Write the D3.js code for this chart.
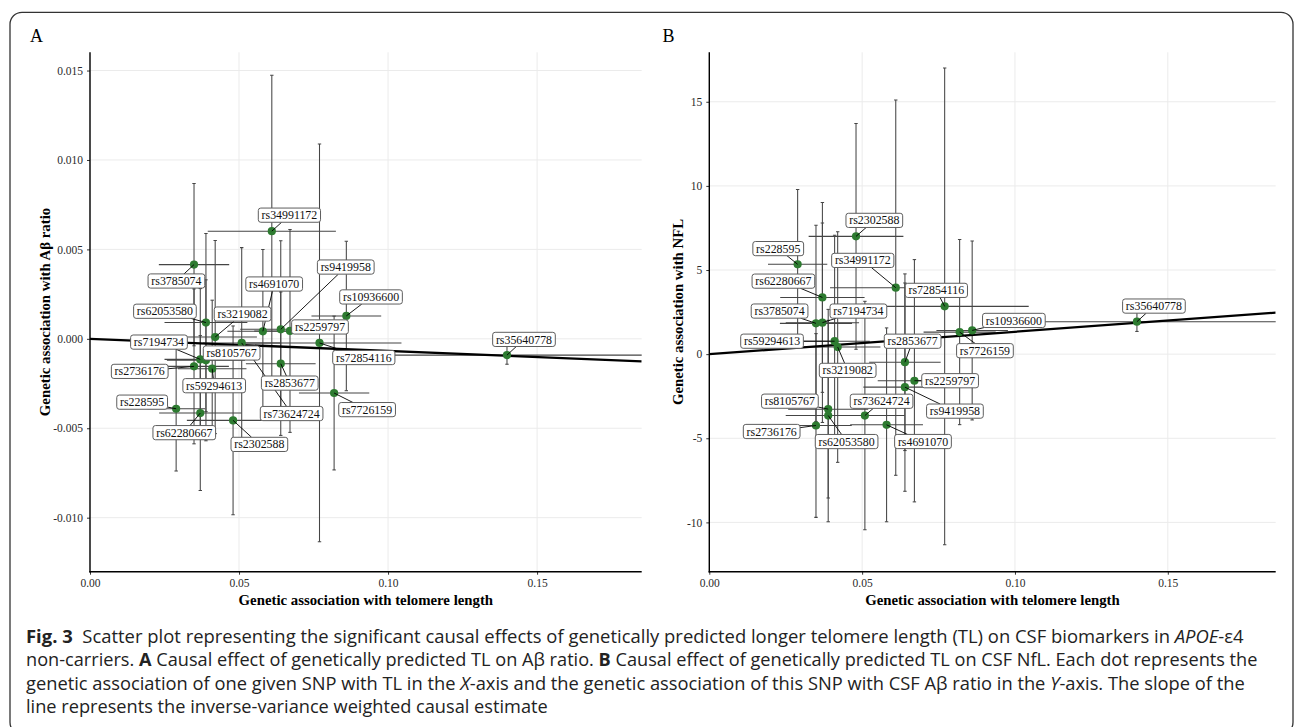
<!DOCTYPE html>
<html><head><meta charset="utf-8">
<script src="https://cdn.jsdelivr.net/npm/d3@7"></script>
<style>body{margin:0;background:#fff} svg{display:block}</style>
</head><body><svg id="chart" width="1295" height="727"></svg>
<script>
// ---------------- data ----------------
const snps = ["rs34991172","rs3785074","rs62053580","rs3219082","rs4691070","rs9419958","rs10936600","rs2259797","rs7194734","rs8105767","rs72854116","rs2736176","rs59294613","rs2853677","rs228595","rs73624724","rs7726159","rs62280667","rs2302588","rs35640778"];
// genetic association with telomere length (x) and its error half-width
const tlBeta = [0.0610,0.0349,0.0389,0.0420,0.0580,0.0640,0.0860,0.0671,0.0370,0.0389,0.0770,0.0349,0.0410,0.0640,0.0289,0.0509,0.0819,0.0370,0.0480,0.1399];
const tlSe   = [0.0215,0.0118,0.0139,0.0140,0.0119,0.0136,0.0117,0.0120,0.0120,0.0131,0.0275,0.0117,0.0115,0.0117,0.0097,0.0130,0.0118,0.0138,0.0155,0.0500];
// panel A: genetic association with Abeta ratio
const abBeta = [0.00602,0.00415,0.00091,0.00010,0.00042,0.00053,0.00128,0.00044,-0.00115,-0.00120,-0.00023,-0.00154,-0.00167,-0.00139,-0.00391,-0.00023,-0.00303,-0.00415,-0.00456,-0.00091];
const abSe   = [0.00872,0.00454,0.00498,0.00540,0.00457,0.00495,0.00418,0.00567,0.00396,0.00450,0.01112,0.00433,0.00383,0.00401,0.00348,0.00533,0.00430,0.00433,0.00528,0.00051];
// panel B: genetic association with NfL
const nflBeta = [3.95,1.83,-3.65,0.42,-4.20,-1.96,1.41,-1.58,1.87,-3.27,2.84,-4.24,0.77,-0.48,5.34,-3.65,1.31,3.37,7.00,1.93];
const nflSe   = [11.15,5.83,6.31,6.85,5.76,6.19,5.32,7.20,5.93,5.28,14.17,5.46,6.30,5.25,4.45,6.79,5.50,5.64,6.71,0.58];
// IVW causal estimates (slopes)
const ivwSlopeAB = -0.0068;
const ivwSlopeNFL = 13.3;
// ticks
const xTickValues = [0, 0.05, 0.10, 0.15];
const xTickLabels = ["0.00","0.05","0.10","0.15"];
const abTickValues = [-0.010,-0.005,0,0.005,0.010,0.015];
const abTickLabels = ["-0.010","-0.005","0.000","0.005","0.010","0.015"];
const nflTickValues = [-10,-5,0,5,10,15];
const nflTickLabels = ["-10","-5","0","5","10","15"];
// text
const panelLetters = ["A","B"];
const yTitles = ["Genetic association with Aβ ratio","Genetic association with NFL"];
const xTitle = "Genetic association with telomere length";

// ---------------- layout (label placement, px offsets from the point) ----------------
const labelOffsetA = [[17.6,-16],[-17.6,16.4],[-41,-11.3],[27.4,-23],[11.3,-47.3],[65,-62.3],[24.7,-19],[30,-4],[-41.3,-17.3],[25.7,-7.3],[44.3,14.6],[-54.3,5],[2,17],[9,19.4],[-34,-6.6],[49.9,70.6],[33,16.6],[-16,19.6],[26.3,24],[17,-15.7]];
const labelOffsetB = [[-33,-27.3],[-36.4,-12.3],[18.4,26],[10,23.3],[36.4,16.7],[50,24],[41.7,-10],[35.7,0],[36,-11.6],[-38.3,-8],[-8.3,-16],[-44.3,6],[-62.6,0],[7.7,-21],[-19.4,-15.7],[16.7,-14.3],[25.3,18.6],[-39,-16.3],[18.3,-16],[17,-15.6]];

const svg = d3.select("#chart");
const SERIF = "'Liberation Serif','Times New Roman',serif";

// frame
svg.append("rect").attr("x",10).attr("y",12.3).attr("width",1283).attr("height",722)
  .attr("rx",12).attr("fill","none").attr("stroke","#333").attr("stroke-width",1.3);

const panels = [
  {letter:panelLetters[0], letterX:30, left:90, right:641.7, xMax:0.1851, yDom:[-0.01302,0.01602],
   yv:abBeta, ye:abSe, yTicks:abTickValues, yLabels:abTickLabels, slope:ivwSlopeAB,
   yTitle:yTitles[0], yTitleX:50, offs:labelOffsetA},
  {letter:panelLetters[1], letterX:662.5, left:709.3, right:1275.7, xMax:0.1853, yDom:[-12.93,17.94],
   yv:nflBeta, ye:nflSe, yTicks:nflTickValues, yLabels:nflTickLabels, slope:ivwSlopeNFL,
   yTitle:yTitles[1], yTitleX:683, offs:labelOffsetB}
];
const plotTop = 52.3, plotBottom = 571.7;

panels.forEach((p, pi) => {
  const x = d3.scaleLinear().domain([0, p.xMax]).range([p.left, p.right]);
  const y = d3.scaleLinear().domain(p.yDom).range([plotBottom, plotTop]);
  const g = svg.append("g");
  const clipId = "clip" + pi;
  svg.append("clipPath").attr("id", clipId).append("rect")
    .attr("x", p.left).attr("y", plotTop).attr("width", p.right - p.left).attr("height", plotBottom - plotTop);

  // grid
  g.append("g").selectAll("line").data(xTickValues).join("line")
    .attr("x1", d => x(d)).attr("x2", d => x(d)).attr("y1", plotTop).attr("y2", plotBottom)
    .attr("stroke", "#ebebeb").attr("stroke-width", 1);
  g.append("g").selectAll("line").data(p.yTicks).join("line")
    .attr("x1", p.left).attr("x2", p.right).attr("y1", d => y(d)).attr("y2", d => y(d))
    .attr("stroke", "#ebebeb").attr("stroke-width", 1);

  const pg = g.append("g").attr("clip-path", `url(#${clipId})`);
  const idx = d3.range(snps.length);
  const barColor = "#454545";
  // vertical error bars
  pg.append("g").selectAll("line").data(idx).join("line")
    .attr("x1", i => x(tlBeta[i])).attr("x2", i => x(tlBeta[i]))
    .attr("y1", i => y(p.yv[i] - p.ye[i])).attr("y2", i => y(p.yv[i] + p.ye[i]))
    .attr("stroke", barColor).attr("stroke-width", 1.05);
  // caps
  [1, -1].forEach(s => {
    pg.append("g").selectAll("line").data(idx).join("line")
      .attr("x1", i => x(tlBeta[i]) - 1.7).attr("x2", i => x(tlBeta[i]) + 1.7)
      .attr("y1", i => y(p.yv[i] + s * p.ye[i])).attr("y2", i => y(p.yv[i] + s * p.ye[i]))
      .attr("stroke", barColor).attr("stroke-width", 1.05);
  });
  // horizontal error bars
  pg.append("g").selectAll("line").data(idx).join("line")
    .attr("x1", i => x(tlBeta[i] - tlSe[i])).attr("x2", i => x(tlBeta[i] + tlSe[i]))
    .attr("y1", i => y(p.yv[i])).attr("y2", i => y(p.yv[i]))
    .attr("stroke", barColor).attr("stroke-width", 1.05);
  // IVW line
  pg.append("line").attr("x1", x(0)).attr("y1", y(0))
    .attr("x2", x(p.xMax)).attr("y2", y(p.slope * p.xMax))
    .attr("stroke", "#000").attr("stroke-width", 2.3);
  // points
  pg.append("g").selectAll("circle").data(idx).join("circle")
    .attr("cx", i => x(tlBeta[i])).attr("cy", i => y(p.yv[i])).attr("r", 4.1)
    .attr("fill", "#2d7b30");

  // axes
  const yAxis = d3.axisLeft(y).tickValues(p.yTicks).tickFormat((d, i) => p.yLabels[i]).tickSize(3).tickPadding(4);
  const xAxis = d3.axisBottom(x).tickValues(xTickValues).tickFormat((d, i) => xTickLabels[i]).tickSize(3).tickPadding(4);
  const ya = g.append("g").attr("transform", `translate(${p.left},0)`).call(yAxis);
  const xa = g.append("g").attr("transform", `translate(0,${plotBottom})`).call(xAxis);
  [ya, xa].forEach(a => {
    a.select(".domain").remove();
    a.selectAll(".tick line").attr("stroke", "#333");
    a.selectAll(".tick text").attr("fill", "#2a2a2a").style("font-family", SERIF).style("font-size", "11.5px");
  });
  g.append("line").attr("x1", p.left).attr("x2", p.left).attr("y1", plotTop).attr("y2", plotBottom + 0.7)
    .attr("stroke", "#000").attr("stroke-width", 1.4);
  g.append("line").attr("x1", p.left - 0.7).attr("x2", p.right).attr("y1", plotBottom).attr("y2", plotBottom)
    .attr("stroke", "#000").attr("stroke-width", 1.4);

  // titles
  g.append("text").attr("x", (p.left + p.right) / 2).attr("y", 605)
    .attr("text-anchor", "middle").style("font-family", SERIF).style("font-weight", "bold")
    .style("font-size", "14.8px").attr("fill", "#000").text(xTitle);
  g.append("text").attr("transform", `translate(${p.yTitleX},${(plotTop + plotBottom) / 2}) rotate(-90)`)
    .attr("text-anchor", "middle").style("font-family", SERIF).style("font-weight", "bold")
    .style("font-size", "14.8px").attr("fill", "#000").text(p.yTitle);
  g.append("text").attr("x", p.letterX).attr("y", 41.5).style("font-family", SERIF)
    .style("font-size", "18px").attr("fill", "#000").text(p.letter);

  // labels (repel-like)
  const lg = g.append("g");
  const segG = lg.append("g");
  const boxG = lg.append("g");
  idx.forEach(i => {
    const px = x(tlBeta[i]), py = y(p.yv[i]);
    const cx = px + p.offs[i][0], cy = py + p.offs[i][1];
    const t = boxG.append("text").attr("x", cx).attr("y", cy + 4.1).attr("text-anchor", "middle")
      .style("font-family", SERIF).style("font-size", "11.9px").attr("fill", "#111").text(snps[i]);
    const w = t.node().getComputedTextLength() + 6.5, h = 14.2;
    boxG.insert("rect", () => t.node()).attr("x", cx - w / 2).attr("y", cy - h / 2)
      .attr("width", w).attr("height", h).attr("rx", 2.5)
      .attr("fill", "#fff").attr("stroke", "#5e5e5e").attr("stroke-width", 1);
    const dx = px - cx, dy = py - cy;
    const inside = Math.abs(dx) <= w / 2 && Math.abs(dy) <= h / 2;
    if (!inside) {
      const tt = Math.min(Math.abs((w / 2) / (dx || 1e-9)), Math.abs((h / 2) / (dy || 1e-9)));
      const ex = cx + dx * tt, ey = cy + dy * tt;
      const len = Math.hypot(px - ex, py - ey);
      if (len > 3) {
        segG.append("line").attr("x1", px).attr("y1", py).attr("x2", ex).attr("y2", ey)
          .attr("stroke", "#000").attr("stroke-width", 0.9);
      }
    }
  });
});

// ---------------- caption ----------------
const captionLines = [
  {w: 1218, parts: [["Fig. 3", "b"], ["  Scatter plot representing the significant causal effects of genetically predicted longer telomere length (TL) on CSF biomarkers in ", ""], ["APOE", "i"], ["-ε4", ""]]},
  {w: 1232, parts: [["non-carriers. ", ""], ["A", "b"], [" Causal effect of genetically predicted TL on Aβ ratio. ", ""], ["B", "b"], [" Causal effect of genetically predicted TL on CSF NfL. Each dot represents the", ""]]},
  {w: 1220, parts: [["genetic association of one given SNP with TL in the ", ""], ["X", "i"], ["-axis and the genetic association of this SNP with CSF Aβ ratio in the ", ""], ["Y", "i"], ["-axis. The slope of the", ""]]},
  {w: 522, parts: [["line represents the inverse-variance weighted causal estimate", ""]]}
];
const capBase = [642.5, 666, 689.5, 713];
captionLines.forEach((ln, li) => {
  const g = svg.append("g");
  const t = g.append("text").attr("x", 0).attr("y", 0).attr("xml:space", "preserve")
    .style("font-family", "'Open Sans','Noto Sans',sans-serif").style("font-size", "17.5px").attr("fill", "#222");
  ln.parts.forEach(([s, f]) => {
    const ts = t.append("tspan").text(s);
    if (f === "b") ts.style("font-weight", "bold");
    if (f === "i") ts.style("font-style", "italic");
  });
  const bw = t.node().getBBox().width;
  g.attr("transform", `translate(26,${capBase[li]}) scale(${ln.w / bw},1)`);
});
</script></body></html>
